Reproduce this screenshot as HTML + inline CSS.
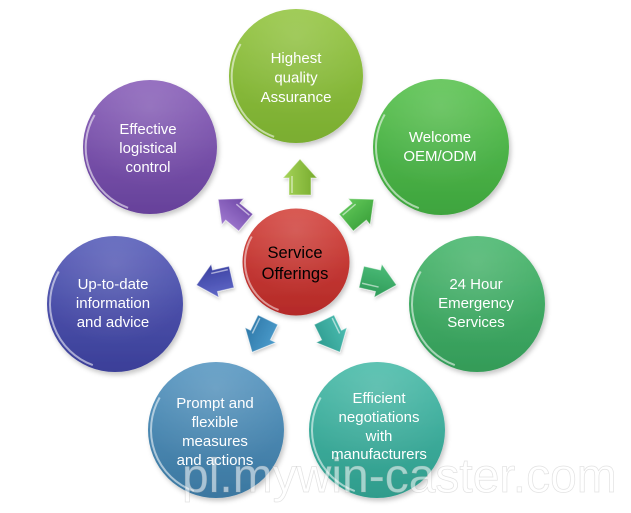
<!DOCTYPE html>
<html><head><meta charset="utf-8"><style>
html,body{margin:0;padding:0;background:#fff;}
svg{display:block;}
text{font-family:"Liberation Sans",Arial,sans-serif;}
</style></head><body>
<svg width="631" height="513" viewBox="0 0 631 513" xmlns="http://www.w3.org/2000/svg">
<defs>
  <filter id="sh" x="-20%" y="-20%" width="150%" height="150%">
    <feDropShadow dx="2" dy="3" stdDeviation="2.5" flood-color="#000" flood-opacity="0.22"/>
  </filter>
  <filter id="ash" x="-30%" y="-30%" width="160%" height="160%">
    <feDropShadow dx="1" dy="2" stdDeviation="1.5" flood-color="#000" flood-opacity="0.2"/>
  </filter>
  <linearGradient id="gTop" x1="0" y1="0" x2="0" y2="1"><stop offset="0" stop-color="#96c645"/><stop offset="1" stop-color="#7aad30"/></linearGradient>
  <linearGradient id="gWel" x1="0" y1="0" x2="0" y2="1"><stop offset="0" stop-color="#5cc352"/><stop offset="1" stop-color="#3ea43e"/></linearGradient>
  <linearGradient id="g24" x1="0" y1="0" x2="0" y2="1"><stop offset="0" stop-color="#4cb870"/><stop offset="1" stop-color="#349b58"/></linearGradient>
  <linearGradient id="gEff" x1="0" y1="0" x2="0" y2="1"><stop offset="0" stop-color="#4cbcaa"/><stop offset="1" stop-color="#2f9c8c"/></linearGradient>
  <linearGradient id="gPro" x1="0" y1="0" x2="0" y2="1"><stop offset="0" stop-color="#5a98c2"/><stop offset="1" stop-color="#3b77a0"/></linearGradient>
  <linearGradient id="gUp" x1="0" y1="0" x2="0" y2="1"><stop offset="0" stop-color="#5a5fba"/><stop offset="1" stop-color="#3b3f98"/></linearGradient>
  <linearGradient id="gEf" x1="0" y1="0" x2="0" y2="1"><stop offset="0" stop-color="#8b62ba"/><stop offset="1" stop-color="#66419a"/></linearGradient>
  <linearGradient id="gRed" x1="0" y1="0" x2="0" y2="1"><stop offset="0" stop-color="#d4463f"/><stop offset="1" stop-color="#b42a28"/></linearGradient>
  <radialGradient id="sheen" cx="0.5" cy="0.2" r="0.6">
    <stop offset="0" stop-color="#fff" stop-opacity="0.15"/><stop offset="1" stop-color="#fff" stop-opacity="0"/>
  </radialGradient>
  <linearGradient id="aTop" x1="0" y1="0" x2="0" y2="1"><stop offset="0" stop-color="#a6d45a"/><stop offset="1" stop-color="#76aa2c"/></linearGradient>
  <linearGradient id="aUL" x1="0" y1="0" x2="0" y2="1"><stop offset="0" stop-color="#a07ad0"/><stop offset="1" stop-color="#7048a8"/></linearGradient>
  <linearGradient id="aUR" x1="0" y1="0" x2="0" y2="1"><stop offset="0" stop-color="#62c85a"/><stop offset="1" stop-color="#3aa03a"/></linearGradient>
  <linearGradient id="aL" x1="0" y1="0" x2="0" y2="1"><stop offset="0" stop-color="#6068c8"/><stop offset="1" stop-color="#3a40a0"/></linearGradient>
  <linearGradient id="aR" x1="0" y1="0" x2="0" y2="1"><stop offset="0" stop-color="#4cbc78"/><stop offset="1" stop-color="#2e9a58"/></linearGradient>
  <linearGradient id="aBL" x1="0" y1="0" x2="0" y2="1"><stop offset="0" stop-color="#4c9ccc"/><stop offset="1" stop-color="#2e78a8"/></linearGradient>
  <linearGradient id="aBR" x1="0" y1="0" x2="0" y2="1"><stop offset="0" stop-color="#4cbcb0"/><stop offset="1" stop-color="#2e9c90"/></linearGradient>
</defs>

<!-- circles -->
<g transform="translate(296,76)">
  <circle r="67" fill="url(#gTop)" filter="url(#sh)"/>
  <circle r="67" fill="url(#sheen)"/>
  <path d="M-21.9,60.8 A64,64 0 0 1 -55.4,-32" fill="none" stroke="#fff" stroke-opacity="0.55" stroke-width="2"/>
</g>
<g transform="translate(441,147)">
  <circle r="68" fill="url(#gWel)" filter="url(#sh)"/>
  <circle r="68" fill="url(#sheen)"/>
  <path d="M-22.2,61.1 A65,65 0 0 1 -56.3,-32.5" fill="none" stroke="#fff" stroke-opacity="0.55" stroke-width="2"/>
</g>
<g transform="translate(477,304)">
  <circle r="68" fill="url(#g24)" filter="url(#sh)"/>
  <circle r="68" fill="url(#sheen)"/>
  <path d="M-22.2,61.1 A65,65 0 0 1 -56.3,-32.5" fill="none" stroke="#fff" stroke-opacity="0.55" stroke-width="2"/>
</g>
<g transform="translate(377,430)">
  <circle r="68" fill="url(#gEff)" filter="url(#sh)"/>
  <circle r="68" fill="url(#sheen)"/>
  <path d="M-22.2,61.1 A65,65 0 0 1 -56.3,-32.5" fill="none" stroke="#fff" stroke-opacity="0.55" stroke-width="2"/>
</g>
<g transform="translate(216,430)">
  <circle r="68" fill="url(#gPro)" filter="url(#sh)"/>
  <circle r="68" fill="url(#sheen)"/>
  <path d="M-22.2,61.1 A65,65 0 0 1 -56.3,-32.5" fill="none" stroke="#fff" stroke-opacity="0.55" stroke-width="2"/>
</g>
<g transform="translate(115,304)">
  <circle r="68" fill="url(#gUp)" filter="url(#sh)"/>
  <circle r="68" fill="url(#sheen)"/>
  <path d="M-22.2,61.1 A65,65 0 0 1 -56.3,-32.5" fill="none" stroke="#fff" stroke-opacity="0.55" stroke-width="2"/>
</g>
<g transform="translate(150,147)">
  <circle r="67" fill="url(#gEf)" filter="url(#sh)"/>
  <circle r="67" fill="url(#sheen)"/>
  <path d="M-21.9,60.8 A64,64 0 0 1 -55.4,-32" fill="none" stroke="#fff" stroke-opacity="0.55" stroke-width="2"/>
</g>
<g transform="translate(296,262)">
  <circle r="53.5" fill="url(#gRed)" filter="url(#sh)"/>
  <circle r="53.5" fill="url(#sheen)"/>
  <path d="M-17.4,48 A51,51 0 0 1 -44.2,-25.5" fill="none" stroke="#fff" stroke-opacity="0.5" stroke-width="2"/>
</g>

<!-- arrows -->
<g filter="url(#ash)" stroke="#fff" stroke-opacity="0.45" stroke-width="1">
  <polygon transform="translate(300,177) rotate(-90)" points="-18,-11 -1,-11 -1,-17 18,0 -1,17 -1,11 -18,11" fill="url(#aTop)"/>
  <polygon transform="translate(232,211) rotate(-140)" points="-18,-11 -1,-11 -1,-17 18,0 -1,17 -1,11 -18,11" fill="url(#aUL)"/>
  <polygon transform="translate(360,211) rotate(-40)" points="-18,-11 -1,-11 -1,-17 18,0 -1,17 -1,11 -18,11" fill="url(#aUR)"/>
  <polygon transform="translate(214,281) rotate(167)" points="-18,-11 -1,-11 -1,-17 18,0 -1,17 -1,11 -18,11" fill="url(#aL)"/>
  <polygon transform="translate(379,281) rotate(13)" points="-18,-11 -1,-11 -1,-17 18,0 -1,17 -1,11 -18,11" fill="url(#aR)"/>
  <polygon transform="translate(260,336) rotate(116)" points="-18,-11 -1,-11 -1,-17 18,0 -1,17 -1,11 -18,11" fill="url(#aBL)"/>
  <polygon transform="translate(332,336) rotate(64)" points="-18,-11 -1,-11 -1,-17 18,0 -1,17 -1,11 -18,11" fill="url(#aBR)"/>
</g>
<!-- arrow bevel highlights -->
<g stroke="#fff" stroke-opacity="0.55" stroke-width="1.5" fill="none">
  <polyline transform="translate(300,177) rotate(-90)" points="-16,-8 1,-8"/>
  <polyline transform="translate(232,211) rotate(-140)" points="-16,8 1,8"/>
  <polyline transform="translate(360,211) rotate(-40)" points="-16,-8 1,-8"/>
  <polyline transform="translate(214,281) rotate(167)" points="-16,8 1,8"/>
  <polyline transform="translate(379,281) rotate(13)" points="-16,6 1,6"/>
  <polyline transform="translate(260,336) rotate(116)" points="-16,8 1,8"/>
  <polyline transform="translate(332,336) rotate(64)" points="-16,-8 1,-8"/>
</g>

<!-- labels -->
<g fill="#fff" font-size="15" text-anchor="middle">
  <text x="296" y="63">Highest</text>
  <text x="296" y="82.5">quality</text>
  <text x="296" y="102">Assurance</text>

  <text x="440" y="142">Welcome</text>
  <text x="440" y="161">OEM/ODM</text>

  <text x="476" y="289">24 Hour</text>
  <text x="476" y="308">Emergency</text>
  <text x="476" y="327">Services</text>

  <text x="148" y="134">Effective</text>
  <text x="148" y="153">logistical</text>
  <text x="148" y="172">control</text>

  <text x="113" y="289">Up-to-date</text>
  <text x="113" y="308">information</text>
  <text x="113" y="327">and advice</text>

  <text x="215" y="408">Prompt and</text>
  <text x="215" y="427">flexible</text>
  <text x="215" y="446">measures</text>
  <text x="215" y="465">and actions</text>

  <text x="379" y="403">Efficient</text>
  <text x="379" y="422">negotiations</text>
  <text x="379" y="441">with</text>
  <text x="379" y="459">manufacturers</text>
</g>
<g fill="#000" font-size="16.5" text-anchor="middle">
  <text x="295" y="258">Service</text>
  <text x="295" y="279">Offerings</text>
</g>

<!-- watermark -->
<text x="182" y="492" font-size="48" fill="#fff" fill-opacity="0.55" stroke="#a0a0a0" stroke-opacity="0.3" stroke-width="0.7">pl.mywin-caster.com</text>
</svg>
</body></html>
